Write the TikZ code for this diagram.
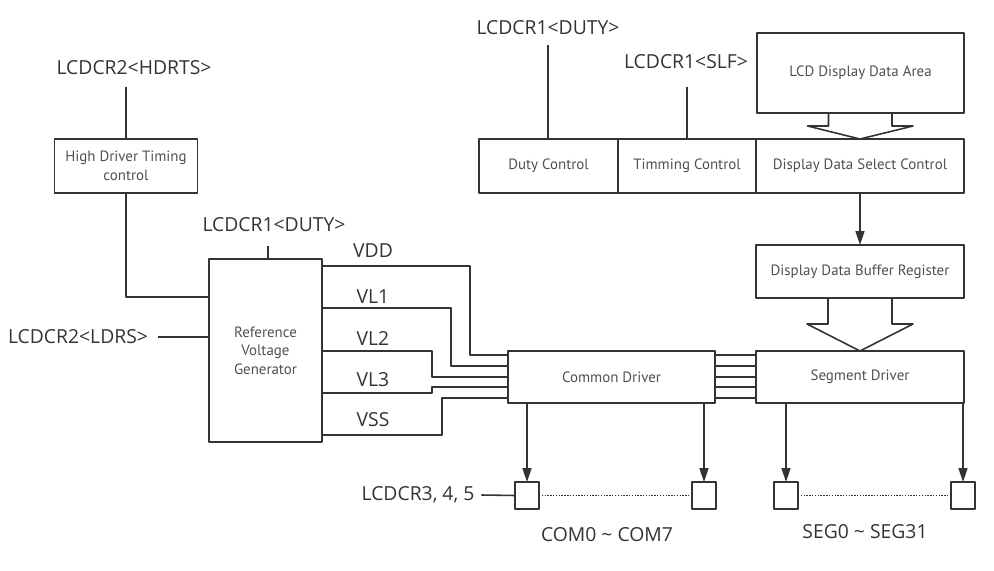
\documentclass[tikz,border=0pt]{standalone}
\usepackage{fontspec}
\setmainfont{Open Sans}
\newfontfamily\boxfont{PT Sans}
\usetikzlibrary{arrows.meta}
\definecolor{ink}{HTML}{333333}
\definecolor{boxtext}{HTML}{505050}
% hollow block arrow: from, to, stem length, head length
\newcommand{\fatarrow}[4]{%
  \draw[wire] (#1.south) ++(-32,0) -- ++(0,#3) -- ++(-21,0) -- (#2.north)
    -- ++(53,-#4) -- ++(-21,0) -- ++(0,-#3);}

\begin{document}
\begin{tikzpicture}[x=0.02cm, y=-0.02cm, line join=round,
  wire/.style={draw=ink, line width=0.9pt},
  block/.style={wire, rectangle, inner sep=0pt, outer sep=0pt, align=center,
    font=\boxfont\fontsize{8.5}{10.5}\selectfont, text=boxtext},
  reg/.style={font=\fontsize{11}{13}\selectfont, text=ink, inner sep=1pt},
  padbox/.style={wire, rectangle, minimum width=0.48cm, minimum height=0.54cm,
    inner sep=0pt, outer sep=0pt},
  arr/.style={-{Triangle[length=2.8mm,width=1.8mm]}},
  dots/.style={wire, line width=0.7pt, dash pattern=on 0.8pt off 0.8pt}]
\useasboundingbox (0,0) rectangle (994,571);

% blocks
\node[block, minimum width=2.86cm, minimum height=1.08cm] (hdt) at (126,166) {High Driver Timing\\control};
\node[block, minimum width=2.26cm, minimum height=3.66cm] (rvg) at (265.5,350.5) {Reference\\Voltage\\Generator};
\node[block, minimum width=2.78cm, minimum height=1.08cm] (duty) at (548.5,166) {Duty Control};
\node[block, minimum width=2.76cm, minimum height=1.08cm] (timing) at (687,166) {Timming Control};
\node[block, minimum width=4.16cm, minimum height=1.08cm] (ddsc) at (860,166) {Display Data Select Control};
\node[block, minimum width=4.14cm, minimum height=1.6cm] (lcdarea) at (860.5,73) {LCD Display Data Area};
\node[block, minimum width=4.16cm, minimum height=1.06cm] (ddbr) at (860,271.5) {Display Data Buffer Register};
\node[block, minimum width=4.14cm, minimum height=1.04cm] (com) at (611.5,377) {Common Driver};
\node[block, minimum width=4.16cm, minimum height=1.04cm] (seg) at (860,377) {Segment Driver};
\foreach \name/\x in {c0/527, c7/704, s0/786, s31/963}
  \node[padbox] (\name) at (\x,495.5) {};

% register labels
\node[reg] (lblHdrts) at (134,68) {LCDCR2<HDRTS>};
\node[reg] (lblLdrs) at (78,337) {LCDCR2<LDRS>};
\node[reg] (lblDutyR) at (274,225) {LCDCR1<DUTY>};
\node[reg] (lblDutyT) at (548,28) {LCDCR1<DUTY>};
\node[reg] (lblSlf) at (686,62) {LCDCR1<SLF>};
\node[reg] (lblLcd) at (418,495) {LCDCR3, 4, 5};
\node[reg] (lblCom) at (607,535) {COM0 \textasciitilde{} COM7};
\node[reg] (lblSeg) at (865,532) {SEG0 \textasciitilde{} SEG31};
\foreach \v/\y in {VDD/251, VL1/297, VL2/339, VL3/380, VSS/420}
  \node[reg] (lbl\v) at (373,\y) {\v};

% control lines
\coordinate (hdrtsEnd) at (126,87);
\coordinate (hdtBend) at (126,297);
\coordinate (dutyTick) at (268,246);
\coordinate (dutyTop) at (548,45);
\coordinate (slfEnd) at (687,87);
\draw[wire] (hdrtsEnd) -- (hdt.north);
\draw[wire] (hdt.south) -- (hdtBend) -- (rvg.west |- hdtBend);
\draw[wire] (lblLdrs.east) ++(8,0) -- (rvg.west |- lblLdrs.east);
\draw[wire] (dutyTick) -- (dutyTick |- rvg.north);
\draw[wire] (dutyTop) -- (dutyTop |- duty.north);
\draw[wire] (slfEnd) -- (slfEnd |- timing.north);

% voltage levels
\foreach \ys/\xb/\yt in {266/470/355, 308/451/366, 351/432/377, 393/432/387, 435/442/398}
  \draw[wire] (rvg.east |- 0,\ys) -| (\xb,\yt) -- (com.west |- 0,\yt);
\foreach \y in {355,366,377,387,398}
  \draw[wire] (com.east |- 0,\y) -- (seg.west |- 0,\y);

% data path
\fatarrow{lcdarea}{ddsc}{13}{13}
\draw[wire, arr] (ddsc.south) -- (ddbr.north);
\fatarrow{ddbr}{seg}{26}{27}

% outputs
\foreach \p in {c0,c7}
  \draw[wire, arr] (\p.north |- com.south) -- (\p.north);
\foreach \p in {s0,s31}
  \draw[wire, arr] (\p.north |- seg.south) -- (\p.north);
\draw[wire] (lblLcd.east) ++(5,0) -- (c0.west);
\draw[dots] (c0.east) -- (c7.west);
\draw[dots] (s0.east) -- (s31.west);
\end{tikzpicture}
\end{document}
